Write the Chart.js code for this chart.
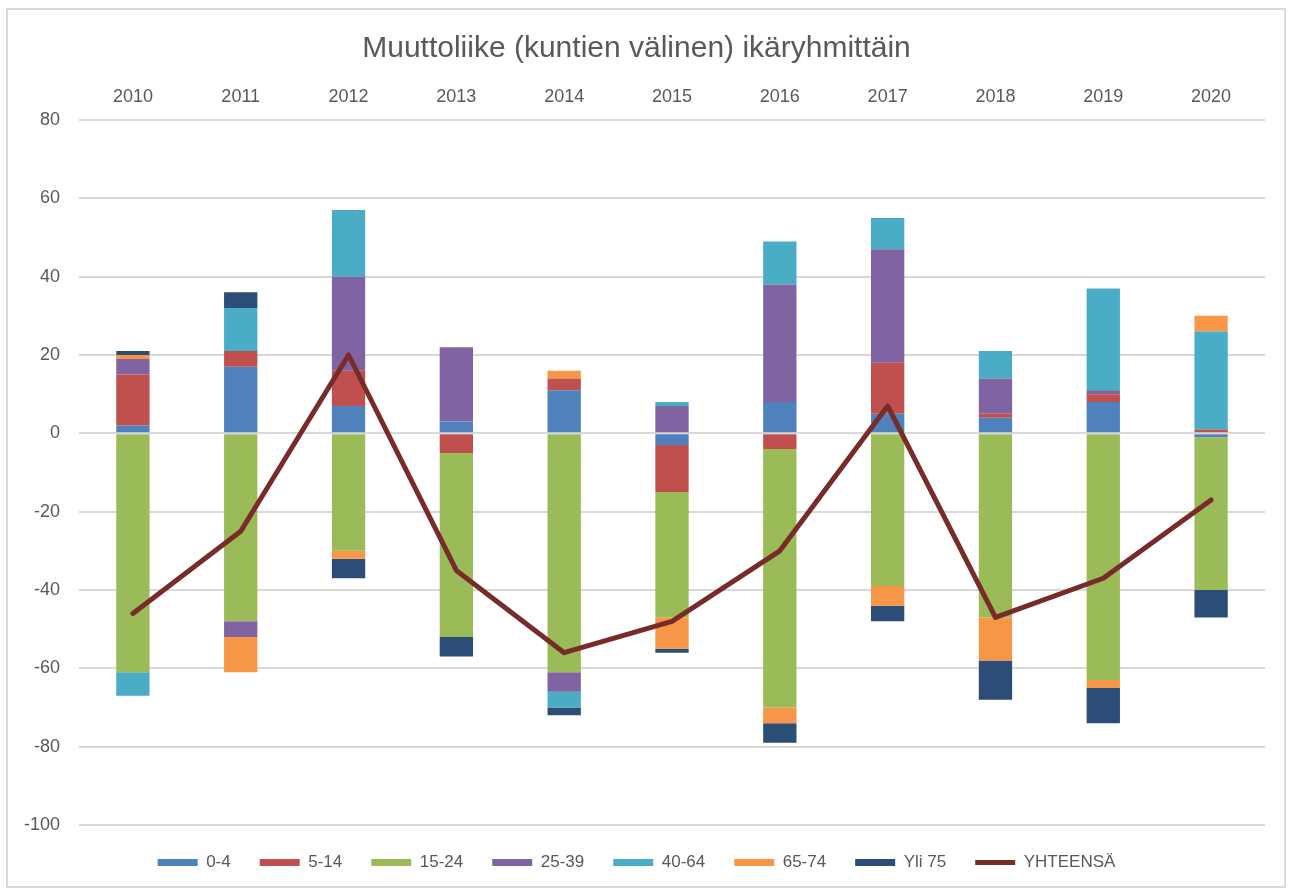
<!DOCTYPE html>
<html>
<head>
<meta charset="utf-8">
<script src="https://cdn.jsdelivr.net/npm/chart.js@4"></script>
<style>
  body { margin: 0; background: #fff; }
  #wrap {
    position: absolute; left: 6px; top: 8px;
    width: 1276px; height: 876px;
    border: 2px solid #d9d9d9;
  }
</style>
</head>
<body>
<div id="wrap"><canvas id="migChart"></canvas></div>
<script>
const years = ['2010', '2011', '2012', '2013', '2014', '2015', '2016', '2017', '2018', '2019', '2020'];

const age0to4 = [2, 17, 7, 3, 11, -3, 8, 5, 4, 8, -1];
const age5to14 = [13, 4, 9, -5, 3, -12, -4, 13, 1, 2, 1];
const age15to24 = [-61, -48, -30, -47, -61, -32, -66, -39, -47, -63, -39];
const age25to39 = [4, -4, 24, 19, -5, 7, 30, 29, 9, 1, 0];
const age40to64 = [-6, 11, 17, 0, -4, 1, 11, 8, 7, 26, 25];
const age65to74 = [1, -9, -2, 0, 2, -8, -4, -5, -11, -2, 4];
const over75 = [1, 4, -5, -5, -2, -1, -5, -4, -10, -9, -7];
const total = [-46, -25, 20, -35, -56, -48, -30, 7, -47, -37, -17];

const yTicks = [80, 60, 40, 20, 0, -20, -40, -60, -80, -100];

const grey = '#595959';
const font = 'Liberation Sans';

function bar(label, data, color) {
  return {
    type: 'bar',
    label: label,
    data: data,
    backgroundColor: color,
    borderWidth: 0,
    order: 1,
    pointStyle: 'rect'
  };
}

const ctx = document.getElementById('migChart').getContext('2d');
new Chart(ctx, {
  data: {
    labels: years,
    datasets: [
      bar('0-4', age0to4, '#4f81bd'),
      bar('5-14', age5to14, '#c0504d'),
      bar('15-24', age15to24, '#9bbb59'),
      bar('25-39', age25to39, '#8064a2'),
      bar('40-64', age40to64, '#4bacc6'),
      bar('65-74', age65to74, '#f79646'),
      bar('Yli 75', over75, '#2c4d75'),
      {
        type: 'line',
        label: 'YHTEENSÄ',
        data: total,
        borderColor: '#772c2a',
        backgroundColor: '#772c2a',
        borderWidth: 5,
        borderCapStyle: 'round',
        borderJoinStyle: 'round',
        pointRadius: 0,
        tension: 0,
        stack: 'total',
        order: 0,
        pointStyle: 'line'
      }
    ]
  },
  options: {
    responsive: true,
    maintainAspectRatio: false,
    animation: false,
    layout: { padding: { left: 0, right: 19, top: 0, bottom: 5 } },
    datasets: {
      bar: { categoryPercentage: 1, barPercentage: 0.309 }
    },
    scales: {
      x: {
        position: 'top',
        stacked: true,
        grid: { display: false },
        border: { display: false },
        ticks: { color: grey, font: { family: font, size: 18 }, padding: 4 },
        afterFit: function (axis) { axis.height = 53; }
      },
      y: {
        stacked: true,
        min: -100,
        max: 80,
        afterBuildTicks: function (axis) {
          axis.ticks = yTicks.map(v => ({ value: v }));
        },
        grid: { color: '#d9d9d9', lineWidth: 2, drawTicks: false },
        border: { display: false },
        ticks: { color: grey, font: { family: font, size: 18 }, padding: 19 },
        afterFit: function (axis) { axis.width = 71; }
      }
    },
    plugins: {
      title: {
        display: true,
        text: 'Muuttoliike (kuntien välinen) ikäryhmittäin',
        color: grey,
        font: { family: font, size: 30, weight: 'normal' },
        padding: { top: 21, bottom: 0 }
      },
      legend: {
        position: 'bottom',
        labels: {
          usePointStyle: true,
          pointStyleWidth: 40,
          boxHeight: 7,
          color: grey,
          font: { family: font, size: 17 },
          padding: 29,
          sort: (a, b) => a.datasetIndex - b.datasetIndex
        }
      },
      tooltip: { enabled: false }
    }
  }
});
</script>
</body>
</html>
